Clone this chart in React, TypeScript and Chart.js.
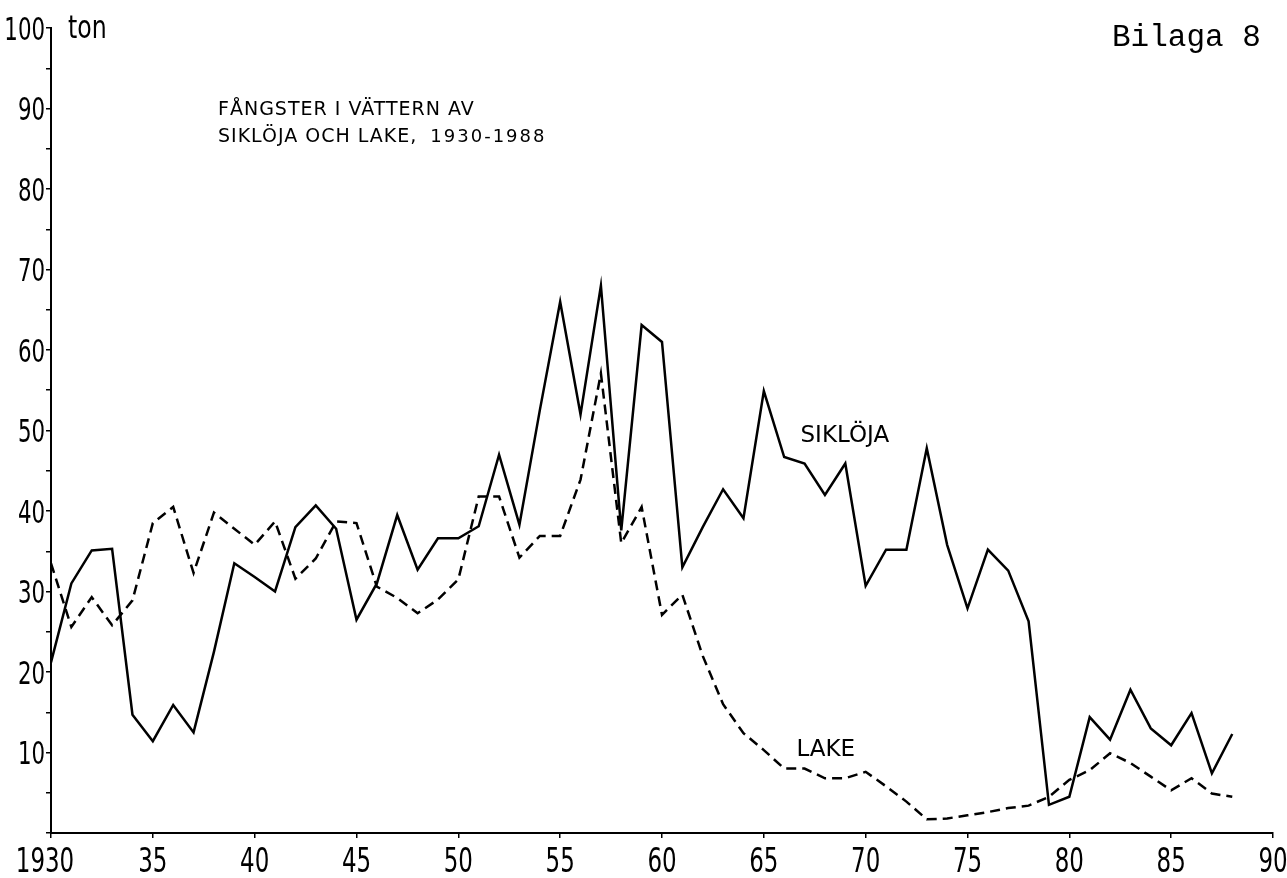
import React, { useEffect, useRef } from "react";
import { Chart, registerables } from "chart.js";

Chart.register(...registerables);

const years: number[] = [];
for (let y = 1930; y <= 1988; y++) years.push(y);

const sikloja = [
  21.2, 31, 35.1, 35.3, 14.7, 11.4, 15.9, 12.5, 22.5, 33.5,
  31.8, 30, 38, 40.7, 37.8, 26.5, 31, 39.5, 32.7, 36.6,
  36.6, 38.1, 47, 38.3, 52.5, 66, 52, 68, 37.6, 63.1,
  61, 33, 38, 42.7, 39.1, 54.9, 46.7, 45.9, 42, 45.9,
  30.7, 35.2, 35.2, 47.8, 35.8, 27.9, 35.2, 32.6, 26.3, 3.5,
  4.5, 14.4, 11.6, 17.8, 13, 10.9, 14.9, 7.4, 12.3,
];

const lake = [
  33.5, 25.6, 29.3, 25.8, 28.9, 38.5, 40.5, 32.3, 39.8, 37.8,
  35.8, 38.7, 31.6, 34.1, 38.7, 38.5, 30.6, 29.2, 27.3, 29,
  31.5, 41.8, 41.8, 34.2, 36.9, 36.9, 43.9, 57.1, 36, 40.5,
  27.1, 29.6, 22, 16, 12.4, 10.3, 8, 8, 6.8, 6.8,
  7.6, 5.8, 3.9, 1.7, 1.8, 2.2, 2.6, 3.1, 3.4, 4.5,
  6.6, 7.8, 9.9, 8.7, 7, 5.3, 6.8, 4.9, 4.5,
];

const titleLines = ["FÅNGSTER I VÄTTERN AV", "SIKLÖJA OCH LAKE,"];
const titleYears = "1930-1988";
const unitLabel = "ton";
const seriesLabels = ["SIKLÖJA", "LAKE"];
const appendixLabel = "Bilaga 8";

const NARROW = "'DejaVu Sans Condensed', 'DejaVu Sans', sans-serif";
const LETTER = "'DejaVu Sans', 'Noto Sans', sans-serif";

// draws a tall, narrow label (like the stencil digits of the original)
function narrowText(ctx: any, text: string, x: number, y: number, align: string, squeeze: number) {
  ctx.save();
  ctx.translate(x, y);
  ctx.scale(squeeze, 1);
  ctx.textAlign = align;
  ctx.fillText(text, 0, 0);
  ctx.restore();
}

const labelPlugin = {
  id: "stencilTicks",
  afterDraw(chart: any) {
    const ctx = chart.ctx;
    const xs = chart.scales.x;
    const ys = chart.scales.y;
    ctx.save();
    ctx.fillStyle = "#000";
    ctx.textBaseline = "alphabetic";
    ctx.font = `34px ${NARROW}`;
    xs.ticks.forEach((t: any, i: number) => {
      if (!t.label) return;
      const px = xs.getPixelForValue(t.value) - (i === 0 ? 6 : 0);
      narrowText(ctx, String(t.label), px, 872, "center", 0.75);
    });
    ctx.font = `32px ${NARROW}`;
    ys.ticks.forEach((t: any) => {
      if (!t.label) return;
      narrowText(ctx, String(t.label), 45, ys.getPixelForValue(t.value) + 11.5, "right", 0.74);
    });
    narrowText(ctx, unitLabel, 68, ys.getPixelForValue(100) + 10, "left", 0.82);
    ctx.restore();
  },
};

const textPlugin = {
  id: "annotText",
  afterDatasetsDraw(chart: any) {
    const ctx = chart.ctx;
    const xs = chart.scales.x;
    ctx.save();
    ctx.fillStyle = "#000";
    ctx.textBaseline = "alphabetic";
    ctx.textAlign = "left";
    const tx = 218;
    ctx.font = `19px ${LETTER}`;
    (ctx as any).letterSpacing = "1px";
    ctx.fillText(titleLines[0], tx, 115);
    ctx.fillText(titleLines[1], tx, 142);
    const w = ctx.measureText(titleLines[1]).width;
    ctx.font = `18px ${LETTER}`;
    (ctx as any).letterSpacing = "2px";
    ctx.fillText(titleYears, tx + w + 13, 142);
    (ctx as any).letterSpacing = "0px";
    // series labels
    ctx.font = `23px ${LETTER}`;
    ctx.fillText(seriesLabels[0], xs.getPixelForValue(1966.8), 442);
    ctx.fillText(seriesLabels[1], xs.getPixelForValue(1966.6), 756);
    // appendix
    ctx.font = `31px 'Liberation Mono', 'DejaVu Sans Mono', monospace`;
    ctx.fillText(appendixLabel, 1112, 46);
    ctx.restore();
  },
};

export default function App() {
  const ref = useRef<HTMLCanvasElement | null>(null);
  useEffect(() => {
    if (!ref.current) return;
    const chart = new Chart(ref.current, {
      type: "line",
      data: {
        datasets: [
          {
            label: seriesLabels[0],
            data: years.map((x, i) => ({ x, y: sikloja[i] })),
            borderColor: "#000",
            borderWidth: 2.5,
            pointRadius: 0,
            tension: 0,
          },
          {
            label: seriesLabels[1],
            data: years.map((x, i) => ({ x, y: lake[i] })),
            borderColor: "#000",
            borderWidth: 2.5,
            borderDash: [10, 6],
            pointRadius: 0,
            tension: 0,
          },
        ],
      },
      options: {
        animation: false,
        responsive: true,
        maintainAspectRatio: false,
        layout: { padding: { left: 0, top: 28, right: 14, bottom: 0 } },
        plugins: { legend: { display: false }, tooltip: { enabled: false }, title: { display: false } },
        scales: {
          x: {
            type: "linear",
            min: 1930,
            max: 1990,
            afterFit: (s: any) => {
              s.height = 45;
              s.paddingLeft = 0;
              s.paddingRight = 0;
            },
            ticks: {
              display: false,
              stepSize: 5,
              autoSkip: false,
              callback: (v: any) => (v === 1930 ? "1930" : String(Number(v) % 100)),
            },
            grid: { drawOnChartArea: false, tickLength: 5, color: "#000", lineWidth: 1.5 },
            border: { color: "#000", width: 2 },
          },
          y: {
            type: "linear",
            min: 0,
            max: 100,
            afterFit: (s: any) => {
              s.width = 51;
              s.paddingTop = 0;
              s.paddingBottom = 0;
            },
            ticks: {
              display: false,
              stepSize: 5,
              autoSkip: false,
              callback: (v: any) => (Number(v) % 10 === 0 && Number(v) !== 0 ? String(v) : ""),
            },
            grid: { drawOnChartArea: false, tickLength: 5, color: "#000", lineWidth: 1.5 },
            border: { color: "#000", width: 2 },
          },
        },
      },
      plugins: [textPlugin, labelPlugin],
    });
    return () => chart.destroy();
  }, []);
  return (
    <div style={{ position: "absolute", left: 0, top: 0, width: 1287, height: 878, background: "#fff" }}>
      <canvas ref={ref} />
    </div>
  );
}
